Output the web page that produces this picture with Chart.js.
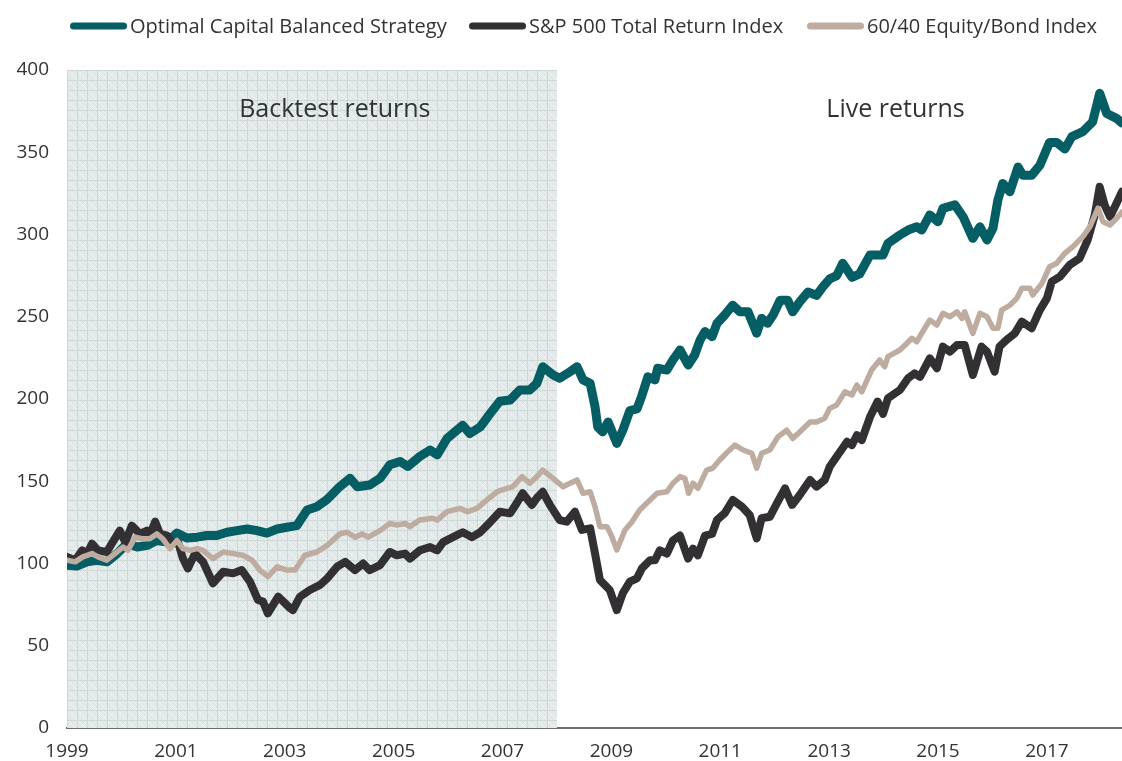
<!DOCTYPE html>
<html>
<head>
<meta charset="utf-8">
<script src="https://cdn.jsdelivr.net/npm/chart.js@4.4.1/dist/chart.umd.min.js"></script>
<style>
html,body{margin:0;padding:0;background:#ffffff;}
canvas{display:block;}
</style>
</head>
<body>
<canvas id="c" width="1122" height="761"></canvas>
<script>
// ---- Data (decimal years, index values) ----
const seriesNames = ["Optimal Capital Balanced Strategy", "S&P 500 Total Return Index", "60/40 Equity/Bond Index"];
const xTickYears = [1999, 2001, 2003, 2005, 2007, 2009, 2011, 2013, 2015, 2017];
const yTickValues = [0, 50, 100, 150, 200, 250, 300, 350, 400];
const regionLabels = ["Backtest returns", "Live returns"];

const ocbsYears = [1999.00,1999.18,1999.37,1999.55,1999.73,1999.92,2000.10,2000.29,2000.47,2000.65,2000.84,2001.02,2001.20,2001.39,2001.57,2001.75,2001.94,2002.12,2002.31,2002.49,2002.67,2002.86,2003.04,2003.22,2003.41,2003.59,2003.78,2004.01,2004.20,2004.33,2004.56,2004.75,2004.93,2005.12,2005.26,2005.48,2005.67,2005.80,2005.98,2006.09,2006.27,2006.40,2006.59,2006.77,2006.95,2007.14,2007.32,2007.50,2007.63,2007.74,2007.93,2008.05,2008.24,2008.37,2008.48,2008.61,2008.70,2008.75,2008.84,2008.94,2009.10,2009.21,2009.34,2009.47,2009.56,2009.67,2009.80,2009.85,2010.02,2010.13,2010.26,2010.41,2010.53,2010.63,2010.72,2010.85,2010.94,2011.08,2011.23,2011.36,2011.51,2011.67,2011.76,2011.87,2011.97,2012.10,2012.24,2012.33,2012.46,2012.61,2012.77,2012.88,2013.01,2013.14,2013.25,2013.42,2013.56,2013.75,2013.99,2014.08,2014.30,2014.45,2014.61,2014.70,2014.85,2015.00,2015.09,2015.31,2015.46,2015.64,2015.77,2015.90,2016.01,2016.10,2016.19,2016.32,2016.47,2016.56,2016.72,2016.87,2017.05,2017.18,2017.33,2017.46,2017.66,2017.84,2017.97,2018.10,2018.28,2018.38];
const ocbsValues = [99,98.5,101,102,101,106,112,110,111,114,113,118.5,115.5,116,117,117,119,120,121,120,118.5,121,122,123,132.5,134.5,139,146.7,151.8,146.7,147.7,151.8,160,162,159,165,169,166,176,179,184,179,183,191,198.6,199.4,205.5,205.5,209.5,219.6,214.6,212.6,216.6,219.6,211.6,209.5,195.3,183,180,186,173,181,193,194,202,213.5,211.6,218.7,217.6,223.7,229.8,220.7,226.7,235.9,241,237.9,246,251,257,253,253,240,249,246,251,260,260,253,259,265,263,268,273,275,282.5,274,276,287.5,287.5,294.6,299.7,302.7,304.7,302.7,311.9,307.8,315.9,318,310.8,297.7,304.7,296.7,303.8,321,331,326,341,336,336,342,356,356,352,359.5,362.5,368.5,385.8,373.6,370.6,367.8];

const spxYears = [1999.00,1999.15,1999.28,1999.37,1999.46,1999.57,1999.73,1999.84,1999.97,2000.07,2000.19,2000.34,2000.47,2000.52,2000.62,2000.71,2000.84,2000.93,2001.04,2001.13,2001.22,2001.35,2001.50,2001.68,2001.87,2002.05,2002.21,2002.36,2002.51,2002.60,2002.69,2002.88,2003.10,2003.15,2003.28,2003.46,2003.65,2003.78,2003.96,2004.11,2004.29,2004.44,2004.56,2004.75,2004.93,2005.06,2005.21,2005.30,2005.48,2005.67,2005.80,2005.91,2006.09,2006.27,2006.44,2006.59,2006.77,2006.95,2007.14,2007.26,2007.37,2007.54,2007.65,2007.74,2007.87,2008.05,2008.18,2008.33,2008.46,2008.61,2008.70,2008.79,2008.88,2008.97,2009.10,2009.21,2009.34,2009.47,2009.56,2009.71,2009.80,2009.89,2010.02,2010.13,2010.26,2010.41,2010.50,2010.59,2010.72,2010.85,2010.94,2011.08,2011.23,2011.40,2011.54,2011.67,2011.76,2011.91,2012.04,2012.19,2012.32,2012.46,2012.65,2012.77,2012.92,2013.01,2013.14,2013.33,2013.42,2013.51,2013.60,2013.75,2013.89,2013.99,2014.08,2014.30,2014.45,2014.57,2014.67,2014.85,2014.98,2015.09,2015.22,2015.35,2015.49,2015.64,2015.80,2015.90,2016.04,2016.13,2016.26,2016.41,2016.54,2016.72,2016.87,2017.00,2017.09,2017.24,2017.42,2017.60,2017.75,2017.88,2017.97,2018.06,2018.16,2018.28,2018.38];
const spxValues = [104,102,108,106,112,108,107,113,120,113,123,118,120,117,125.4,118,117,112,113,103,97,106,101,88,95,94,96,89,77.8,76.8,69.7,79.8,72.8,71.7,79.8,83.9,87,91,98,101,96,100,96,99,107,105,106,103,108,110,108,113,116,119,116,119,125,131.5,130.5,136.6,142.7,135.6,140.6,143.6,135.6,126.4,125.4,131.5,120.4,121.4,106,90,86.9,83.9,71.7,81.9,89,91,97,102,102,108,106,114,117,103,109,105,117,118,126.4,130.5,138.6,134.5,129.5,115.3,127.5,128.4,136.6,145.7,135.6,141.6,150.8,146.7,150.8,158.8,165,174,172,178,175,189,198.4,191,200.4,205.5,212.6,215.6,213.5,224.7,218.7,231.8,228.8,232.8,232.8,214.6,231.8,228.8,216.6,231.8,235.9,239.9,247,243,254,261.2,271.3,274.4,281.5,285.5,296.7,311.9,329,318,310.8,319,326];

const balYears = [1999.00,1999.15,1999.29,1999.46,1999.57,1999.73,1999.88,2000.03,2000.12,2000.25,2000.40,2000.52,2000.65,2000.76,2000.89,2001.02,2001.13,2001.26,2001.39,2001.50,2001.68,2001.87,2002.05,2002.23,2002.40,2002.54,2002.69,2002.86,2003.04,2003.19,2003.37,2003.59,2003.78,2004.01,2004.14,2004.29,2004.42,2004.53,2004.75,2004.93,2005.06,2005.21,2005.30,2005.48,2005.72,2005.80,2005.98,2006.22,2006.36,2006.53,2006.71,2006.90,2007.08,2007.19,2007.36,2007.50,2007.63,2007.74,2007.93,2008.11,2008.24,2008.37,2008.48,2008.61,2008.70,2008.79,2008.92,2009.01,2009.10,2009.25,2009.38,2009.52,2009.71,2009.84,2010.02,2010.13,2010.26,2010.35,2010.42,2010.50,2010.59,2010.75,2010.86,2010.99,2011.14,2011.27,2011.42,2011.58,2011.67,2011.76,2011.91,2012.06,2012.22,2012.33,2012.46,2012.65,2012.77,2012.92,2013.01,2013.14,2013.29,2013.42,2013.51,2013.60,2013.78,2013.93,2014.02,2014.08,2014.30,2014.43,2014.52,2014.61,2014.70,2014.85,2014.98,2015.09,2015.22,2015.35,2015.44,2015.49,2015.64,2015.77,2015.90,2016.01,2016.10,2016.17,2016.32,2016.45,2016.54,2016.69,2016.74,2016.91,2017.05,2017.18,2017.33,2017.48,2017.66,2017.79,2017.94,2018.03,2018.16,2018.28,2018.38];
const balValues = [102,101,104,106,104,102,106,110,108,116,115,115,118,115,109,114,109,108,109,108,103,107,106,105,102,96,92,98,96,96,105,107,111,118,119,116,118,116,120,124.4,123.4,124.4,122.4,126.4,127.5,126.4,131.5,133.5,131.5,133.5,138.6,143.6,145.7,146.7,152.8,148.8,152.8,156.8,151.8,146.7,148.8,150.8,142.7,143.6,134.5,122.4,122.4,116.3,108.2,120.4,125.4,132.5,138.6,142.7,143.6,148.8,152.8,151.8,142.7,148.8,145.7,156.8,157.9,162.9,168,172,169,167,157.9,167,169,177,181,176,180,186,186,188.3,194.3,196.4,204.4,202.4,208.5,204.4,217.6,223.7,219.6,225.7,229.8,233.9,236.9,234.8,239.9,248,245,252.1,250,253,249,253,239.9,252.1,250,243,243,254,257,261.2,267.3,267.3,263.2,270.3,280.4,282.5,288.6,292.6,298.7,304.7,316,307.8,305.8,309.8,313.7];

const backtestStart = 1999.0;
const backtestEnd = 2008.0;
const xMin = 1999.0;
const xMax = 2018.38;

// ---- Styling ----
const FONT = "'Open Sans', 'DejaVu Sans', sans-serif";
const TEXT = '#333333';
const colors = ['#045e63', '#333033', '#bfaca0'];
const widths = [9, 8, 5.5];

function toXY(xs, ys){ return xs.map((x,i)=>({x:x, y:ys[i]})); }

function makePattern(ctx){
  const p = document.createElement('canvas');
  p.width = 10; p.height = 10;
  const g = p.getContext('2d');
  g.fillStyle = '#e8efee';
  g.fillRect(0,0,10,10);
  g.fillStyle = '#dae4e2';
  for(let i=0;i<10;i++) for(let j=0;j<10;j++){ if((i+j)%2===0 && ((i*7+j*3)%5)!==0) g.fillRect(i,j,1,1); }
  g.fillStyle = '#cdd9d7';
  g.fillRect(0,0,10,1);
  g.fillRect(0,0,1,10);
  return ctx.createPattern(p,'repeat');
}

const backgroundPlugin = {
  id: 'backtestShade',
  beforeDatasetsDraw(chart){
    const {ctx, chartArea, scales} = chart;
    const x0 = scales.x.getPixelForValue(backtestStart);
    const x1 = scales.x.getPixelForValue(backtestEnd);
    ctx.save();
    ctx.translate(x0, chartArea.top);
    ctx.fillStyle = makePattern(ctx);
    ctx.fillRect(0, 0, x1 - x0, chartArea.bottom - chartArea.top);
    ctx.restore();
    // region labels
    ctx.save();
    ctx.fillStyle = TEXT;
    ctx.font = "25px " + FONT;
    ctx.textAlign = 'center';
    ctx.textBaseline = 'middle';
    const yl = scales.y.getPixelForValue(376);
    ctx.fillText(regionLabels[0], scales.x.getPixelForValue(2003.92), yl);
    ctx.fillText(regionLabels[1], scales.x.getPixelForValue(2014.22), yl);
    ctx.restore();
  }
};

const legendPlugin = {
  id: 'customLegend',
  afterDraw(chart){
    const ctx = chart.ctx;
    const starts = [70, 469, 807];
    const y = 26;
    ctx.save();
    ctx.font = "20px " + FONT;
    ctx.textBaseline = 'middle';
    ctx.textAlign = 'left';
    chart.data.datasets.forEach((ds, i) => {
      const x = starts[i];
      ctx.strokeStyle = ds.borderColor;
      ctx.lineWidth = 7;
      ctx.lineCap = 'round';
      ctx.beginPath();
      ctx.moveTo(x + 3.5, y);
      ctx.lineTo(x + 53.5, y);
      ctx.stroke();
      ctx.fillStyle = TEXT;
      ctx.fillText(ds.label, x + 60, y + 1);
    });
    ctx.restore();
  }
};

const datasets = [
  {label: seriesNames[0], data: toXY(ocbsYears, ocbsValues), order: 3},
  {label: seriesNames[1], data: toXY(spxYears, spxValues), order: 2},
  {label: seriesNames[2], data: toXY(balYears, balValues), order: 1}
].map((d,i)=>Object.assign(d, {
  borderColor: colors[i],
  backgroundColor: colors[i],
  borderWidth: widths[i],
  pointRadius: 0,
  pointHoverRadius: 0,
  tension: 0,
  fill: false,
  borderJoinStyle: 'round',
  borderCapStyle: 'round'
}));

new Chart(document.getElementById('c'), {
  type: 'line',
  data: {datasets},
  options: {
    responsive: false,
    animation: false,
    devicePixelRatio: 1,
    layout: {padding: {top: 70, right: 0, bottom: 0, left: 0}},
    plugins: {legend: {display: false}, tooltip: {enabled: false}},
    scales: {
      x: {
        type: 'linear',
        min: xMin,
        max: xMax,
        afterBuildTicks(scale){ scale.ticks = xTickYears.map(v=>({value:v})); },
        afterFit(scale){ scale.height = 33; },
        grid: {display: false, drawTicks: false},
        border: {display: true, color: '#6d6d6d', width: 2},
        ticks: {
          color: TEXT, padding: 12, maxRotation: 0, autoSkip: false,
          font: {family: FONT, size: 19},
          callback: v => String(v)
        }
      },
      y: {
        min: 0,
        max: 400,
        afterBuildTicks(scale){ scale.ticks = yTickValues.map(v=>({value:v})); },
        afterFit(scale){ scale.width = 67; },
        grid: {display: false, drawTicks: false},
        border: {display: false},
        ticks: {
          color: TEXT, padding: 18,
          font: {family: FONT, size: 19},
          callback: v => String(v)
        }
      }
    }
  },
  plugins: [backgroundPlugin, legendPlugin]
});
</script>
</body>
</html>
